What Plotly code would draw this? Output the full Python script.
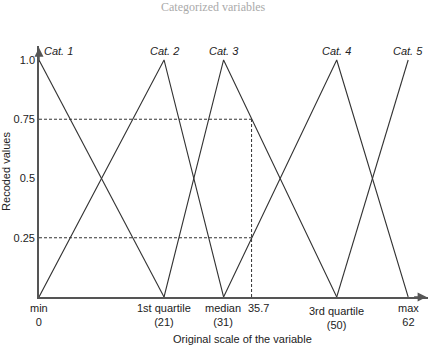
import plotly.graph_objects as go

# ---- data ----
x_points = [0, 21, 31, 50, 62]           # min, Q1, median, Q3, max
x_names = ["min", "1st quartile", "median", "3rd quartile", "max"]
x_values_text = ["0", "(21)", "(31)", "(50)", "62"]
categories = ["Cat. 1", "Cat. 2", "Cat. 3", "Cat. 4", "Cat. 5"]
example_value = 35.7
example_levels = [0.75, 0.25]
y_ticks = [0.25, 0.5, 0.75, 1.0]
y_ticktext = ["0.25", "0.5", "0.75", "1.0"]

FONT = "Liberation Sans, Arial, sans-serif"
INK = "#222222"
LINE = "#333333"
AXIS = "#555555"

fig = go.Figure()

# triangular membership functions
for i, cat in enumerate(categories):
    xs, ys = [], []
    if i > 0:
        xs.append(x_points[i - 1]); ys.append(0)
    xs.append(x_points[i]); ys.append(1)
    if i < len(x_points) - 1:
        xs.append(x_points[i + 1]); ys.append(0)
    fig.add_trace(go.Scatter(x=xs, y=ys, mode="lines",
                             line=dict(color=LINE, width=1.1),
                             hoverinfo="skip", showlegend=False))

# dashed reference lines
for lv in example_levels:
    fig.add_trace(go.Scatter(x=[0, example_value], y=[lv, lv], mode="lines",
                             line=dict(color=LINE, width=1, dash="3px,2px"),
                             hoverinfo="skip", showlegend=False))
fig.add_trace(go.Scatter(x=[example_value, example_value], y=[0, max(example_levels)],
                         mode="lines",
                         line=dict(color=LINE, width=1, dash="3px,2px"),
                         hoverinfo="skip", showlegend=False))

ann = []
# category labels
for i, cat in enumerate(categories):
    ann.append(dict(x=x_points[i], y=1, xref="x", yref="y", text="<i>" + cat + "</i>",
                    showarrow=False, yanchor="bottom", yshift=1,
                    xanchor="left" if i == 0 else "center",
                    xshift=3 if i == 0 else 0,
                    font=dict(family=FONT, size=11, color=INK)))
# x labels
for i in range(len(x_points)):
    ys = -3 if x_names[i] != "3rd quartile" else -6
    xs = -1 if x_names[i] == "median" else 0
    ann.append(dict(x=x_points[i], y=0, xref="x", yref="y",
                    text=x_names[i] + "<br>" + x_values_text[i],
                    showarrow=False, yanchor="top", yshift=ys, xshift=xs,
                    font=dict(family=FONT, size=11, color=INK)))
ann.append(dict(x=example_value, y=0, xref="x", yref="y", text=str(example_value),
                showarrow=False, yanchor="top", xanchor="left", yshift=-3, xshift=-6,
                font=dict(family=FONT, size=11, color=INK)))
# x-axis title
ann.append(dict(x=(241 - 35) / 393, y=0, xref="paper", yref="paper",
                text="Original scale of the variable",
                showarrow=False, yanchor="top", yshift=-34,
                font=dict(family=FONT, size=11, color=INK)))
# title (at top, light grey)
ann.append(dict(x=(211 - 35) / 393, y=1, xref="paper", yref="paper", text="Categorized variables",
                showarrow=False, font=dict(family="Liberation Serif, serif", size=12, color="#aaaaaa"),
                yanchor="bottom", yshift=30))
# axis arrows
ann.append(dict(x=0, y=1.052, xref="x", yref="y", ax=0, ay=14,
                showarrow=True, arrowhead=2, arrowsize=1.2, arrowwidth=1.5, arrowcolor=AXIS, text=""))
ann.append(dict(x=65.1, y=0, xref="x", yref="y", ax=-14, ay=0,
                showarrow=True, arrowhead=2, arrowsize=1.2, arrowwidth=1.5, arrowcolor=AXIS, text=""))

fig.update_layout(
    width=428, height=345,
    margin=dict(l=35, r=0, t=46, b=48),
    plot_bgcolor="white", paper_bgcolor="white",
    annotations=ann,
    xaxis=dict(range=[0, 65.33], showgrid=False, zeroline=False, showticklabels=False,
               showline=True, linecolor=AXIS, linewidth=1.6, fixedrange=True),
    yaxis=dict(range=[0, 1.059], showgrid=False, zeroline=False,
               tickvals=y_ticks, ticktext=y_ticktext, ticks="",
               tickfont=dict(family=FONT, size=11, color=INK),
               title=dict(text="Recoded values", font=dict(family=FONT, size=11, color=INK), standoff=6),
               showline=True, linecolor=AXIS, linewidth=1.6, fixedrange=True),
)
fig.write_html("out.html")
